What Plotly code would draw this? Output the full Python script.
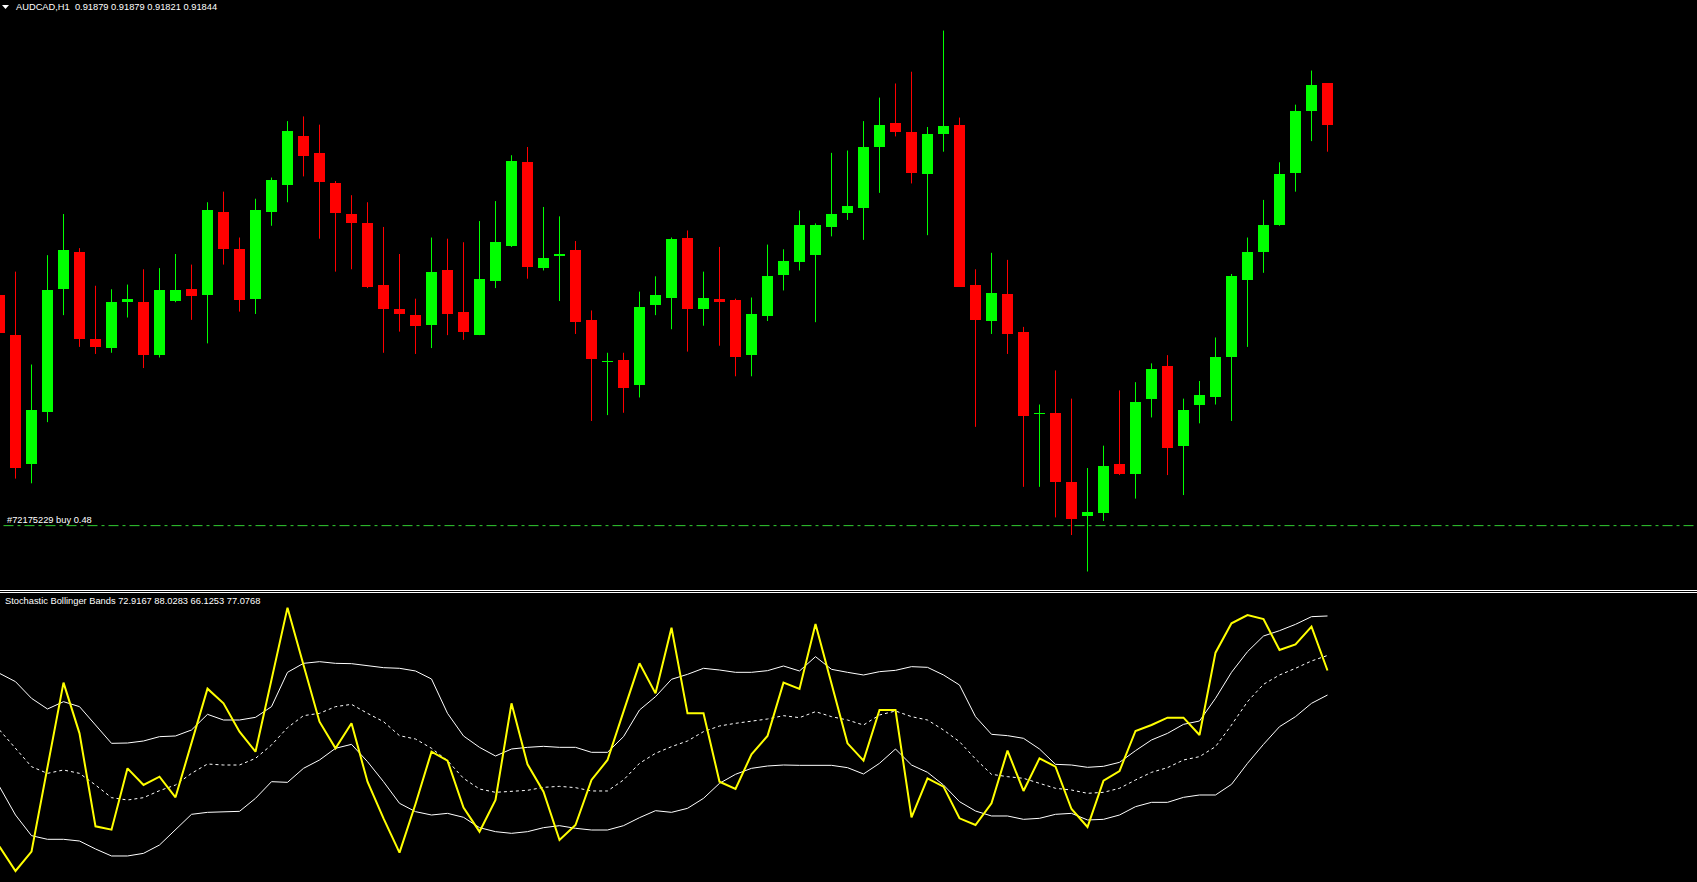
import plotly.graph_objects as go

# ---------------- data ----------------
symbol_title = "AUDCAD,H1\u00a0\u00a00.91879 0.91879 0.91821 0.91844"
indicator_title = "Stochastic Bollinger Bands 72.9167 88.0283 66.1253 77.0768"
order_label = "#72175229 buy 0.48"
order_price = 0.91503

opens = [0.91699, 0.91665, 0.91555, 0.91600, 0.91704, 0.91736, 0.91662, 0.91654, 0.91693, 0.91693,
         0.91648, 0.91694, 0.91704, 0.91699, 0.91770, 0.91738, 0.91696, 0.91770, 0.91793, 0.91834,
         0.91820, 0.91794, 0.91768, 0.91760, 0.91708, 0.91687, 0.91682, 0.91674, 0.91720, 0.91685,
         0.91665, 0.91711, 0.91741, 0.91812, 0.91722, 0.91732, 0.91737, 0.91678, 0.91642, 0.91644,
         0.91623, 0.91691, 0.91697, 0.91748, 0.91687, 0.91696, 0.91695, 0.91648, 0.91681, 0.91716,
         0.91727, 0.91733, 0.91757, 0.91769, 0.91773, 0.91825, 0.91845, 0.91838, 0.91802, 0.91836,
         0.91844, 0.91708, 0.91677, 0.91700, 0.91668, 0.91598, 0.91599, 0.91540, 0.91511, 0.91514,
         0.91555, 0.91547, 0.91611, 0.91639, 0.91571, 0.91606, 0.91612, 0.91646, 0.91712, 0.91736,
         0.91759, 0.91803, 0.91856, 0.91879]
highs = [0.91715, 0.91719, 0.91640, 0.91733, 0.91768, 0.91739, 0.91707, 0.91704, 0.91708, 0.91721,
         0.91722, 0.91734, 0.91725, 0.91778, 0.91787, 0.91748, 0.91781, 0.91799, 0.91847, 0.91851,
         0.91844, 0.91796, 0.91784, 0.91778, 0.91757, 0.91734, 0.91696, 0.91748, 0.91747, 0.91744,
         0.91762, 0.91779, 0.91818, 0.91825, 0.91774, 0.91766, 0.91745, 0.91686, 0.91650, 0.91650,
         0.91702, 0.91715, 0.91748, 0.91754, 0.91719, 0.91740, 0.91696, 0.91697, 0.91742, 0.91738,
         0.91771, 0.91760, 0.91820, 0.91822, 0.91847, 0.91867, 0.91879, 0.91889, 0.91842, 0.91924,
         0.91850, 0.91721, 0.91735, 0.91729, 0.91672, 0.91606, 0.91635, 0.91611, 0.91552, 0.91571,
         0.91618, 0.91625, 0.91641, 0.91648, 0.91611, 0.91626, 0.91663, 0.91717, 0.91748, 0.91780,
         0.91812, 0.91861, 0.91890, 0.91879]
lows = [0.91662, 0.91543, 0.91539, 0.91591, 0.91682, 0.91655, 0.91649, 0.91650, 0.91680, 0.91637,
        0.91646, 0.91693, 0.91678, 0.91658, 0.91725, 0.91685, 0.91683, 0.91758, 0.91778, 0.91800,
        0.91747, 0.91719, 0.91721, 0.91705, 0.91650, 0.91668, 0.91649, 0.91654, 0.91665, 0.91661,
        0.91665, 0.91705, 0.91740, 0.91713, 0.91720, 0.91694, 0.91666, 0.91592, 0.91597, 0.91599,
        0.91612, 0.91682, 0.91670, 0.91651, 0.91673, 0.91656, 0.91630, 0.91630, 0.91677, 0.91703,
        0.91720, 0.91676, 0.91749, 0.91763, 0.91746, 0.91786, 0.91834, 0.91794, 0.91750, 0.91821,
        0.91706, 0.91587, 0.91666, 0.91649, 0.91536, 0.91536, 0.91510, 0.91495, 0.91464, 0.91507,
        0.91546, 0.91526, 0.91595, 0.91546, 0.91529, 0.91590, 0.91606, 0.91592, 0.91655, 0.91718,
        0.91758, 0.91787, 0.91830, 0.91821]
closes = [0.91667, 0.91552, 0.91601, 0.91703, 0.91737, 0.91662, 0.91655, 0.91693, 0.91696, 0.91648,
          0.91703, 0.91703, 0.91698, 0.91771, 0.91738, 0.91695, 0.91771, 0.91797, 0.91839, 0.91817,
          0.91795, 0.91769, 0.91760, 0.91706, 0.91687, 0.91683, 0.91673, 0.91719, 0.91683, 0.91668,
          0.91713, 0.91744, 0.91813, 0.91723, 0.91731, 0.91734, 0.91676, 0.91645, 0.91643, 0.91620,
          0.91689, 0.91699, 0.91747, 0.91687, 0.91697, 0.91693, 0.91646, 0.91683, 0.91715, 0.91728,
          0.91759, 0.91759, 0.91768, 0.91775, 0.91825, 0.91844, 0.91838, 0.91803, 0.91836, 0.91843,
          0.91706, 0.91678, 0.91701, 0.91666, 0.91596, 0.91599, 0.91540, 0.91509, 0.91515, 0.91554,
          0.91547, 0.91608, 0.91636, 0.91569, 0.91601, 0.91614, 0.91646, 0.91715, 0.91736, 0.91759,
          0.91802, 0.91856, 0.91878, 0.91844]

stoch = [24.07, 17.33, 22.69, 46.16, 69.54, 55.49, 29.71, 28.79, 45.79, 41.17,
         43.48, 37.75, 52.81, 67.88, 63.81, 55.96, 50.41, 70.37, 90.34, 74.44,
         58.73, 51.34, 58.27, 42.09, 31.93, 22.41, 35.90, 50.41, 47.92, 34.89,
         28.23, 37.01, 63.81, 46.90, 39.32, 25.92, 30.08, 42.56, 48.10, 61.50,
         74.90, 66.58, 84.79, 61.04, 61.04, 42.09, 40.06, 49.67, 54.76, 69.54,
         67.79, 85.81, 69.08, 52.72, 47.92, 61.96, 61.96, 32.21, 43.02, 40.71,
         31.93, 30.08, 36.09, 50.69, 39.51, 48.56, 46.25, 34.52, 29.53, 42.37,
         45.05, 56.14, 57.80, 59.84, 59.84, 55.03, 77.86, 85.99, 88.30, 87.19,
         78.60, 80.17, 85.07, 72.92]
upper_band = [72.13, 69.82, 65.20, 62.24, 64.27, 62.89, 57.80, 52.72, 52.81, 53.37,
              54.57, 54.76, 56.42, 60.76, 59.19, 59.19, 59.93, 62.89, 72.41, 74.90,
              75.36, 74.90, 74.81, 74.16, 73.70, 73.52, 72.78, 70.56, 61.04, 54.76,
              51.61, 49.21, 51.15, 51.61, 51.89, 51.61, 51.61, 50.23, 50.23, 54.57,
              61.96, 65.66, 70.47, 71.85, 73.52, 73.05, 72.41, 72.41, 72.87, 74.16,
              72.78, 76.75, 73.24, 72.41, 71.67, 72.59, 72.96, 73.98, 73.79, 71.67,
              68.89, 60.12, 55.22, 54.85, 54.11, 51.15, 46.90, 46.71, 46.07, 46.35,
              47.45, 50.69, 53.65, 55.49, 57.99, 58.91, 65.20, 72.41, 78.14, 82.48,
              83.96, 85.71, 87.84, 88.03]
middle_band = [56.42, 51.34, 46.25, 44.40, 45.33, 44.40, 41.17, 37.66, 37.01, 37.66,
               39.60, 41.17, 44.40, 46.99, 46.71, 46.71, 48.56, 52.26, 57.07, 60.39,
               61.04, 62.89, 63.53, 61.04, 58.73, 54.85, 53.92, 51.34, 47.92, 43.02,
               40.06, 39.14, 39.51, 39.69, 40.52, 40.80, 40.43, 39.51, 39.51, 42.56,
               47.18, 49.95, 51.80, 53.37, 55.96, 57.53, 58.27, 58.91, 59.47, 60.39,
               59.84, 61.50, 60.12, 59.19, 57.80, 60.58, 61.69, 60.12, 59.19, 56.42,
               53.18, 48.38, 44.13, 43.48, 43.02, 41.63, 40.25, 39.78, 38.86, 39.14,
               40.25, 42.56, 44.68, 45.98, 48.10, 49.03, 51.80, 57.80, 64.27, 69.08,
               71.67, 73.52, 75.55, 77.08]
lower_band = [40.71, 32.85, 27.12, 26.11, 26.11, 25.64, 23.43, 21.49, 21.49, 22.22,
              24.53, 28.88, 33.04, 33.59, 33.78, 33.87, 37.47, 42.09, 41.91, 45.79,
              48.10, 51.34, 52.44, 47.64, 42.09, 36.09, 33.78, 32.85, 33.31, 32.21,
              29.34, 28.23, 27.77, 28.23, 29.34, 29.89, 29.16, 28.69, 28.69, 29.89,
              32.11, 34.05, 33.59, 34.70, 37.47, 41.63, 44.13, 45.79, 46.44, 46.71,
              46.62, 46.62, 46.62, 45.98, 44.22, 47.18, 51.15, 46.71, 44.68, 41.17,
              36.55, 33.96, 32.58, 32.58, 31.65, 31.93, 33.04, 33.31, 31.47, 31.65,
              32.85, 35.16, 36.36, 36.36, 37.75, 38.40, 38.40, 41.35, 47.18, 52.44,
              57.34, 60.12, 63.81, 66.12]

# ---------------- styling ----------------
W, H = 1697, 882
BULL = "#00FF00"
BEAR = "#FF0000"
FONT = "Liberation Sans, Arial, sans-serif"
bars = list(range(len(opens)))

main_bottom_px = 590
ind_top_px = 593
main_domain = [1 - main_bottom_px / H, 1]
ind_domain = [0, 1 - ind_top_px / H]

fig = go.Figure()

# wicks
for up, col in ((True, BULL), (False, BEAR)):
    xs, ys = [], []
    for i in bars:
        if (closes[i] >= opens[i]) == up:
            xs += [i, i, None]
            ys += [lows[i], highs[i], None]
    fig.add_trace(go.Scatter(x=xs, y=ys, mode="lines", line=dict(color=col, width=1),
                             hoverinfo="skip", xaxis="x", yaxis="y"))

# bodies
for up, col in ((True, BULL), (False, BEAR)):
    xs, base, hgt = [], [], []
    for i in bars:
        if (closes[i] >= opens[i]) == up:
            xs.append(i)
            base.append(min(opens[i], closes[i]))
            hgt.append(max(abs(closes[i] - opens[i]), 0.00001))
    fig.add_trace(go.Bar(x=xs, y=hgt, base=base, width=11 / 16, marker=dict(color=col, line=dict(width=0)),
                         hoverinfo="skip", xaxis="x", yaxis="y"))

# order line
fig.add_trace(go.Scatter(x=[-5, 200], y=[order_price, order_price], mode="lines",
                         line=dict(color="#32CD32", width=1, dash="10px,4px,3px,4px"),
                         hoverinfo="skip", xaxis="x", yaxis="y"))

# indicator
fig.add_trace(go.Scatter(x=bars, y=upper_band, mode="lines", line=dict(color="#FFFFFF", width=1),
                         hoverinfo="skip", xaxis="x", yaxis="y2"))
fig.add_trace(go.Scatter(x=bars, y=lower_band, mode="lines", line=dict(color="#FFFFFF", width=1),
                         hoverinfo="skip", xaxis="x", yaxis="y2"))
fig.add_trace(go.Scatter(x=bars, y=middle_band, mode="lines", line=dict(color="#FFFFFF", width=1, dash="3px,3px"),
                         hoverinfo="skip", xaxis="x", yaxis="y2"))
fig.add_trace(go.Scatter(x=bars, y=stoch, mode="lines", line=dict(color="#FFFF00", width=2),
                         hoverinfo="skip", xaxis="x", yaxis="y2"))

px_per_bar = 16
x0 = 0.5 / px_per_bar
x1 = x0 + W / px_per_bar

price_top = 0.91950
price_per_px = 0.000008504
price_bottom = price_top - main_bottom_px * price_per_px

ind_top_val = 258.81 - 0.27725 * ind_top_px
ind_bottom_val = 258.81 - 0.27725 * H

fig.update_layout(
    width=W, height=H,
    margin=dict(l=0, r=0, t=0, b=0),
    paper_bgcolor="#000000", plot_bgcolor="#000000",
    showlegend=False, barmode="overlay", bargap=0,
    hovermode=False,
    xaxis=dict(range=[x0, x1], visible=False, fixedrange=True),
    yaxis=dict(domain=main_domain, range=[price_bottom, price_top], visible=False, fixedrange=True),
    yaxis2=dict(domain=ind_domain, range=[ind_bottom_val, ind_top_val], visible=False, fixedrange=True),
    font=dict(family=FONT, color="#FFFFFF", size=9.3),
)

def py(p):
    return 1 - p / H

def pxx(p):
    return p / W

shapes = [
    dict(type="line", xref="paper", yref="paper", x0=0, x1=1, y0=py(590.5), y1=py(590.5),
         line=dict(color="#FFFFFF", width=1)),
    dict(type="line", xref="paper", yref="paper", x0=0, x1=1, y0=py(592.5), y1=py(592.5),
         line=dict(color="#FFFFFF", width=1)),
    dict(type="path", xref="paper", yref="paper",
         path=f"M {pxx(2)} {py(5)} L {pxx(9)} {py(5)} L {pxx(5.5)} {py(9)} Z",
         fillcolor="#FFFFFF", line=dict(width=0)),
]
fig.update_layout(shapes=shapes)

fig.add_annotation(text=symbol_title, xref="paper", yref="paper", x=pxx(14), y=py(7.5),
                   xanchor="left", yanchor="middle", showarrow=False,
                   font=dict(family=FONT, size=9.3, color="#FFFFFF"))
fig.add_annotation(text=order_label, xref="paper", yref="y", x=pxx(4.5), y=order_price,
                   xanchor="left", yanchor="middle", yshift=6, showarrow=False,
                   font=dict(family=FONT, size=9.3, color="#FFFFFF"))
fig.add_annotation(text=indicator_title, xref="paper", yref="paper", x=pxx(2.5), y=py(601.3),
                   xanchor="left", yanchor="middle", showarrow=False,
                   font=dict(family=FONT, size=9.3, color="#FFFFFF"))

page_css = ("document.body.style.margin='0';document.body.style.padding='0';"
            "document.body.style.background='#000000';"
            "document.documentElement.style.background='#000000';"
            "document.body.style.overflow='hidden';")

fig.write_html("out.html", config={"displayModeBar": False, "staticPlot": True},
               post_script=page_css)
